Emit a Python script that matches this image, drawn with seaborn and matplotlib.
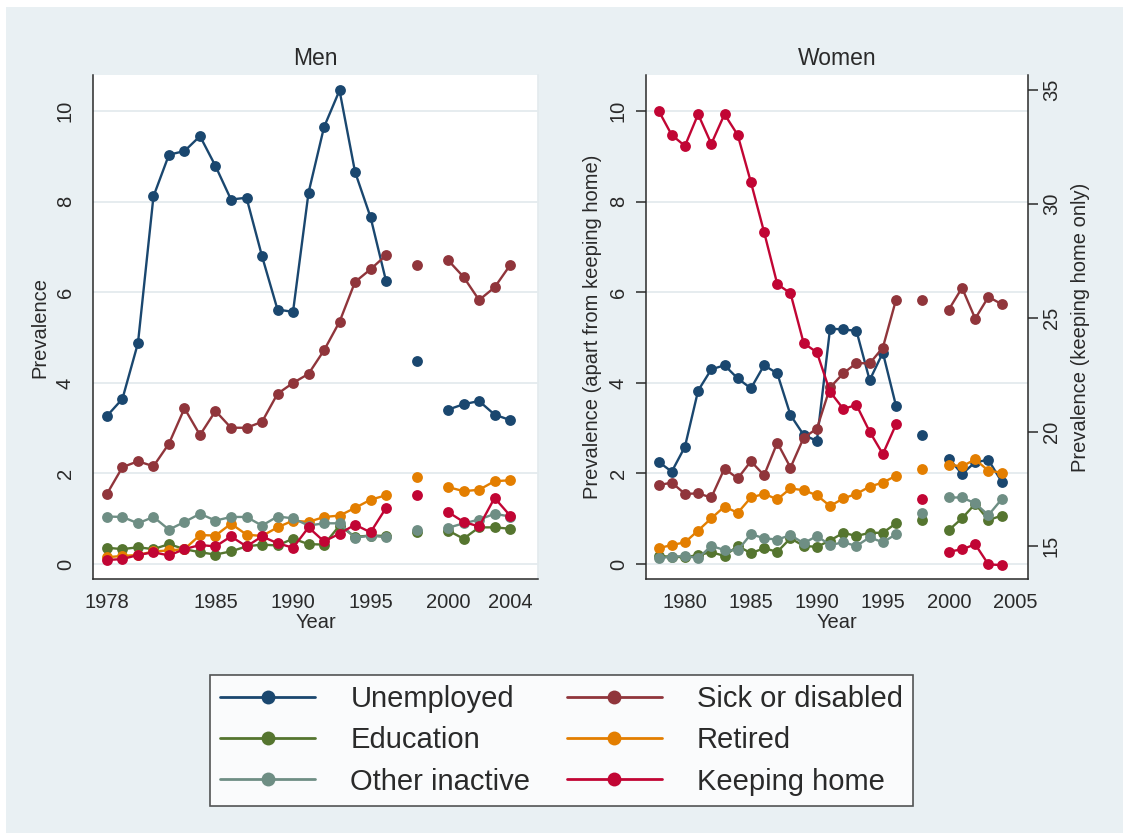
import numpy as np
import pandas as pd
import matplotlib
matplotlib.use("Agg")
import matplotlib.pyplot as plt
from matplotlib.lines import Line2D
from matplotlib.patches import Rectangle
import seaborn as sns

# Survey years (no survey in 1997 and 1999)
years = [1978, 1979, 1980, 1981, 1982, 1983, 1984, 1985, 1986, 1987,
         1988, 1989, 1990, 1991, 1992, 1993, 1994, 1995, 1996, 1998,
         2000, 2001, 2002, 2003, 2004]

# Men, prevalence (%)
men_unemployed = [3.27, 3.65, 4.88, 8.12, 9.04, 9.12, 9.45, 8.79, 8.05, 8.09,
                  6.80, 5.62, 5.57, 8.20, 9.65, 10.46, 8.66, 7.66, 6.25, 4.48,
                  3.41, 3.53, 3.60, 3.30, 3.18]
men_sick = [1.55, 2.14, 2.27, 2.16, 2.66, 3.44, 2.85, 3.38, 3.01, 3.01,
            3.14, 3.76, 4.00, 4.20, 4.72, 5.35, 6.23, 6.51, 6.82, 6.60,
            6.71, 6.34, 5.83, 6.11, 6.60]
men_education = [0.36, 0.33, 0.37, 0.33, 0.44, 0.33, 0.26, 0.21, 0.28, 0.39,
                 0.43, 0.41, 0.56, 0.44, 0.43, 0.85, 0.60, 0.63, 0.62, 0.70,
                 0.74, 0.56, 0.81, 0.81, 0.78]
men_retired = [0.15, 0.18, 0.20, 0.28, 0.30, 0.33, 0.64, 0.63, 0.89, 0.65,
               0.62, 0.81, 0.96, 0.93, 1.04, 1.07, 1.24, 1.42, 1.52, 1.93,
               1.70, 1.61, 1.64, 1.83, 1.85]
men_other = [1.05, 1.04, 0.90, 1.04, 0.76, 0.93, 1.11, 0.96, 1.04, 1.04,
             0.85, 1.05, 1.01, 0.85, 0.90, 0.90, 0.58, 0.63, 0.59, 0.76,
             0.80, 0.90, 0.98, 1.11, 1.05]
men_home = [0.09, 0.11, 0.20, 0.26, 0.19, 0.33, 0.42, 0.39, 0.61, 0.39,
            0.61, 0.46, 0.36, 0.81, 0.50, 0.67, 0.87, 0.70, 1.24, 1.53,
            1.15, 0.93, 0.83, 1.46, 1.07]

# Women, prevalence (%); keeping home is read on the right-hand axis
women_unemployed = [2.26, 2.04, 2.59, 3.83, 4.30, 4.39, 4.10, 3.88, 4.39, 4.21,
                    3.29, 2.85, 2.72, 5.20, 5.18, 5.15, 4.06, 4.67, 3.49, 2.85,
                    2.33, 1.99, 2.25, 2.30, 1.82]
women_sick = [1.74, 1.80, 1.55, 1.56, 1.47, 2.11, 1.89, 2.27, 1.96, 2.68,
              2.13, 2.79, 2.99, 3.90, 4.21, 4.44, 4.43, 4.78, 5.84, 5.84,
              5.62, 6.10, 5.42, 5.90, 5.74]
women_education = [0.18, 0.16, 0.15, 0.20, 0.26, 0.18, 0.40, 0.24, 0.35, 0.27,
                   0.57, 0.40, 0.38, 0.52, 0.69, 0.62, 0.69, 0.69, 0.90, 0.97,
                   0.75, 1.01, 1.33, 0.97, 1.07]
women_retired = [0.35, 0.42, 0.48, 0.74, 1.01, 1.27, 1.13, 1.47, 1.55, 1.43,
                 1.67, 1.63, 1.52, 1.28, 1.45, 1.55, 1.71, 1.80, 1.95, 2.11,
                 2.19, 2.16, 2.31, 2.06, 2.02]
women_other = [0.13, 0.16, 0.18, 0.13, 0.40, 0.31, 0.30, 0.66, 0.57, 0.54,
               0.64, 0.46, 0.62, 0.42, 0.48, 0.40, 0.59, 0.48, 0.66, 1.12,
               1.47, 1.47, 1.34, 1.08, 1.43]
women_home = [34.08, 33.01, 32.53, 33.92, 32.62, 33.92, 33.01, 30.94, 28.75, 26.47,
              26.07, 23.88, 23.48, 21.75, 21.00, 21.17, 20.00, 19.02, 20.32, 17.03,
              14.74, 14.84, 15.06, 14.18, 14.15]

statuses = ["Unemployed", "Sick or disabled", "Education",
            "Retired", "Other inactive", "Keeping home"]
palette = {
    "Unemployed": "#1a476f",
    "Sick or disabled": "#90353b",
    "Education": "#55752f",
    "Retired": "#e37e00",
    "Other inactive": "#6e8e84",
    "Keeping home": "#c10534",
}

# A new line segment starts after every skipped survey year
segment = np.cumsum(np.r_[0, np.diff(years) > 1])


def long_frame(series):
    parts = [pd.DataFrame({"year": years, "value": vals,
                           "status": name, "segment": segment})
             for name, vals in series.items()]
    return pd.concat(parts, ignore_index=True)


men_df = long_frame({
    "Unemployed": men_unemployed, "Sick or disabled": men_sick,
    "Education": men_education, "Retired": men_retired,
    "Other inactive": men_other, "Keeping home": men_home,
})
women_df = long_frame({
    "Unemployed": women_unemployed, "Sick or disabled": women_sick,
    "Education": women_education, "Retired": women_retired,
    "Other inactive": women_other,
})
women_home_df = long_frame({"Keeping home": women_home})

sns.set_theme(style="white")
plt.rcParams["font.family"] = ["Liberation Sans", "DejaVu Sans"]

BG = "#e9f0f3"
GRID = "#e4ebee"
INK = "#2a2a2a"
W, H = 1123, 833

fig = plt.figure(figsize=(W / 100, H / 100), dpi=100)
fig.patch.set_facecolor("white")
fig.add_artist(Rectangle((6 / W, 0), 1, 1 - 7 / H, transform=fig.transFigure,
                         facecolor=BG, edgecolor="none", zorder=-10))

ax_m = fig.add_axes([93 / W, 1 - 579 / H, 445 / W, 504 / H])
ax_w = fig.add_axes([646 / W, 1 - 579 / H, 382 / W, 504 / H])

line_kw = dict(x="year", y="value", units="segment", estimator=None,
               marker="o", markersize=7.8, markeredgewidth=0,
               linewidth=1.7, legend=False)

sns.lineplot(data=men_df, hue="status", hue_order=statuses,
             palette=palette, ax=ax_m, **line_kw)
sns.lineplot(data=women_df, hue="status", hue_order=statuses[:5],
             palette=palette, ax=ax_w, **line_kw)

ax_w2 = ax_w.twinx()
sns.lineplot(data=women_home_df, color=palette["Keeping home"], ax=ax_w2, **line_kw)


def style_axis(ax, xticks, xlim):
    ax.set_facecolor("white")
    ax.set_xlim(*xlim)
    ax.set_ylim(-0.33, 10.8)
    ax.set_xticks(xticks)
    ax.set_yticks([0, 2, 4, 6, 8, 10])
    ax.yaxis.grid(True, color=GRID, linewidth=1.3)
    ax.xaxis.grid(False)
    ax.set_axisbelow(True)
    for side in ("top", "right"):
        ax.spines[side].set_visible(False)
    for side in ("left", "bottom"):
        ax.spines[side].set_color(INK)
        ax.spines[side].set_linewidth(1.1)
    ax.tick_params(axis="both", direction="out", length=7, width=1.1,
                   color=INK, labelcolor=INK, labelsize=14.5)
    ax.tick_params(axis="x", pad=3)
    ax.tick_params(axis="y", pad=6)
    for lab in ax.get_yticklabels():
        lab.set_rotation(90)
        lab.set_va("center")
    ax.set_xlabel("Year", fontsize=14.5, color=INK, labelpad=1)


style_axis(ax_m, [1978, 1985, 1990, 1995, 2000, 2004], (1977.1, 2005.8))
style_axis(ax_w, [1980, 1985, 1990, 1995, 2000, 2005], (1977.05, 2006.0))
ax_m.spines["right"].set_visible(True)
ax_m.spines["right"].set_color(GRID)

ax_m.set_ylabel("Prevalence", fontsize=14.5, color=INK, labelpad=5)
ax_w.set_ylabel("Prevalence (apart from keeping home)", fontsize=14.5,
                color=INK, labelpad=5)
ax_m.set_title("Men", fontsize=16.5, color=INK, pad=7)
ax_w.set_title("Women", fontsize=16.5, color=INK, pad=7)

ax_w2.set_ylim(13.54, 35.64)
ax_w2.set_yticks([15, 20, 25, 30, 35])
ax_w2.grid(False)
for side in ("top", "left", "bottom"):
    ax_w2.spines[side].set_visible(False)
ax_w2.spines["right"].set_color(INK)
ax_w2.spines["right"].set_linewidth(1.1)
ax_w2.tick_params(axis="y", direction="out", length=7, width=1.1, color=INK,
                  labelcolor=INK, labelsize=14.5, pad=3)
for lab in ax_w2.get_yticklabels():
    lab.set_rotation(90)
    lab.set_va("center")
ax_w2.set_ylabel("Prevalence (keeping home only)", fontsize=14.5,
                 color=INK, labelpad=7)

# Legend laid out in two columns, read row by row
legend_order = ["Unemployed", "Education", "Other inactive",
                "Sick or disabled", "Retired", "Keeping home"]
handles = [Line2D([], [], color=palette[s], marker="o", markersize=10,
                  markeredgewidth=0, linewidth=2) for s in legend_order]
leg = fig.legend(handles, legend_order, loc="center",
                 bbox_to_anchor=(0.5, 1 - 740.5 / H), ncol=2, fontsize=21,
                 frameon=True, fancybox=False, edgecolor=INK,
                 handlelength=3.25, handletextpad=1.2, columnspacing=1.25,
                 labelspacing=0.45, borderpad=0.35)
leg.get_frame().set_linewidth(1.2)
leg.get_frame().set_facecolor("white")
for t in leg.get_texts():
    t.set_color(INK)

fig.savefig("out.png", dpi=100, facecolor=fig.get_facecolor())
